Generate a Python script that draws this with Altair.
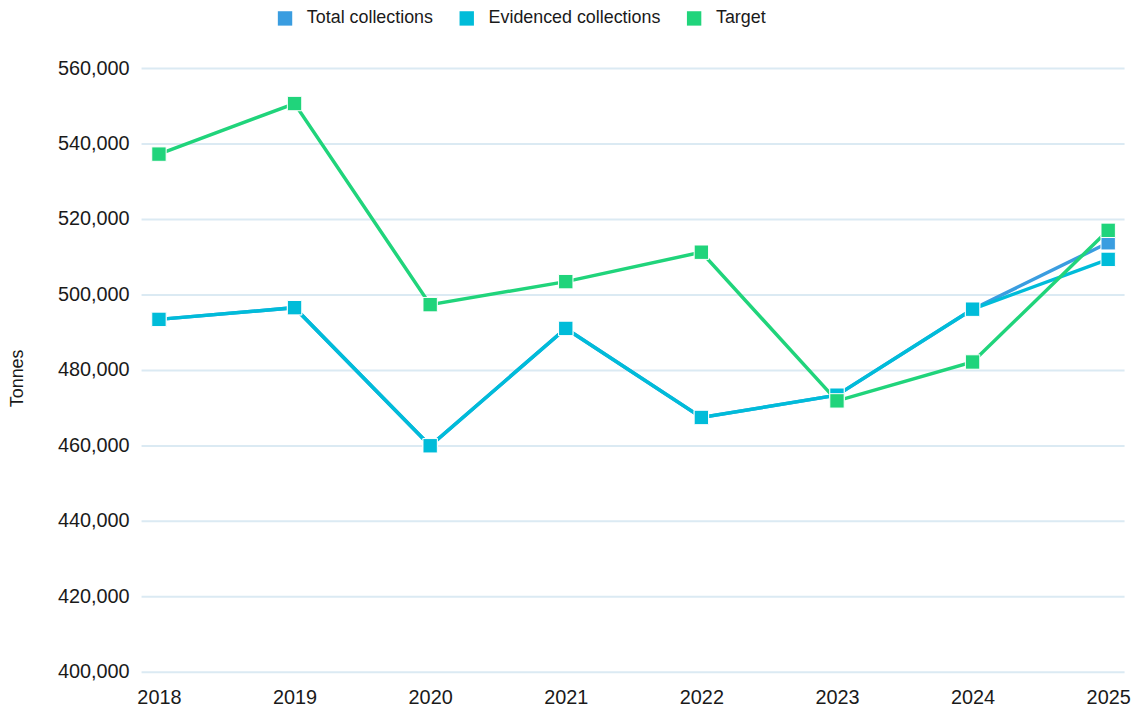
import altair as alt
import pandas as pd

years = [2018, 2019, 2020, 2021, 2022, 2023, 2024, 2025]
total = [493400, 496500, 459900, 491000, 467400, 473300, 496100, 513700]
evidenced = [493400, 496500, 459900, 491000, 467400, 473300, 496100, 509300]
target = [537200, 550600, 497300, 503400, 511200, 471800, 482100, 517000]

series_names = ["Total collections", "Evidenced collections", "Target"]
series_colors = ["#3a9de0", "#00bcd9", "#20d47b"]
y_ticks = list(range(400000, 560001, 20000))

rows = []
for name, vals in zip(series_names, [total, evidenced, target]):
    for yr, v in zip(years, vals):
        rows.append({"Year": yr, "Tonnes": v, "Series": name})
df = pd.DataFrame(rows)

FONT = "Liberation Sans"

x = alt.X(
    "Year:Q",
    scale=alt.Scale(domain=[2017.868, 2025.117], nice=False, zero=False),
    axis=alt.Axis(values=years, format="d", grid=False, domain=False, ticks=False,
                  labelPadding=16, labelFontSize=20, labelColor="#1a1a1a",
                  labelFont=FONT, title=None, labelFlush=False),
)
y = alt.Y(
    "Tonnes:Q",
    scale=alt.Scale(domain=[400000, 560000], nice=False, zero=False),
    axis=alt.Axis(values=y_ticks, format=",d", grid=True, gridColor="#dbeaf3",
                  gridWidth=2, domain=False, ticks=False, labelPadding=12,
                  labelFontSize=20, labelColor="#1a1a1a", labelFont=FONT,
                  title="Tonnes", titleFontSize=18, titleFontWeight="normal",
                  titleColor="#1a1a1a", titleFont=FONT, titleX=-124, titleY=312,
                  titleAngle=-90, titleAlign="center", titleBaseline="middle"),
)
legend = alt.Legend(
    title=None, orient="none", direction="horizontal",
    legendX=136, legendY=-59, symbolType="square", symbolSize=210,
    symbolStrokeWidth=0, symbolOpacity=1, labelFontSize=18, labelFont=FONT,
    labelColor="#1a1a1a", labelOffset=13, columnPadding=24, padding=0,
    labelLimit=0,
)
color_scale = alt.Scale(domain=series_names, range=series_colors)

lines = alt.Chart(df).mark_line(strokeWidth=3.5).encode(
    x=x, y=y,
    color=alt.Color("Series:N", scale=color_scale, legend=legend),
)
points = alt.Chart(df).mark_point(
    shape="square", size=210, filled=True, opacity=1, stroke="white", strokeWidth=1
).encode(
    x=x, y=y,
    color=alt.Color("Series:N", scale=color_scale, legend=legend),
)

chart = alt.layer(lines, points).properties(
    width=990, height=608,
    autosize=alt.AutoSizeParams(type="none"),
    padding={"left": 134, "top": 58, "right": 8, "bottom": 38},
).configure_view(stroke=None)

chart.save("out.html", embed_options={"renderer": "svg", "actions": False})
